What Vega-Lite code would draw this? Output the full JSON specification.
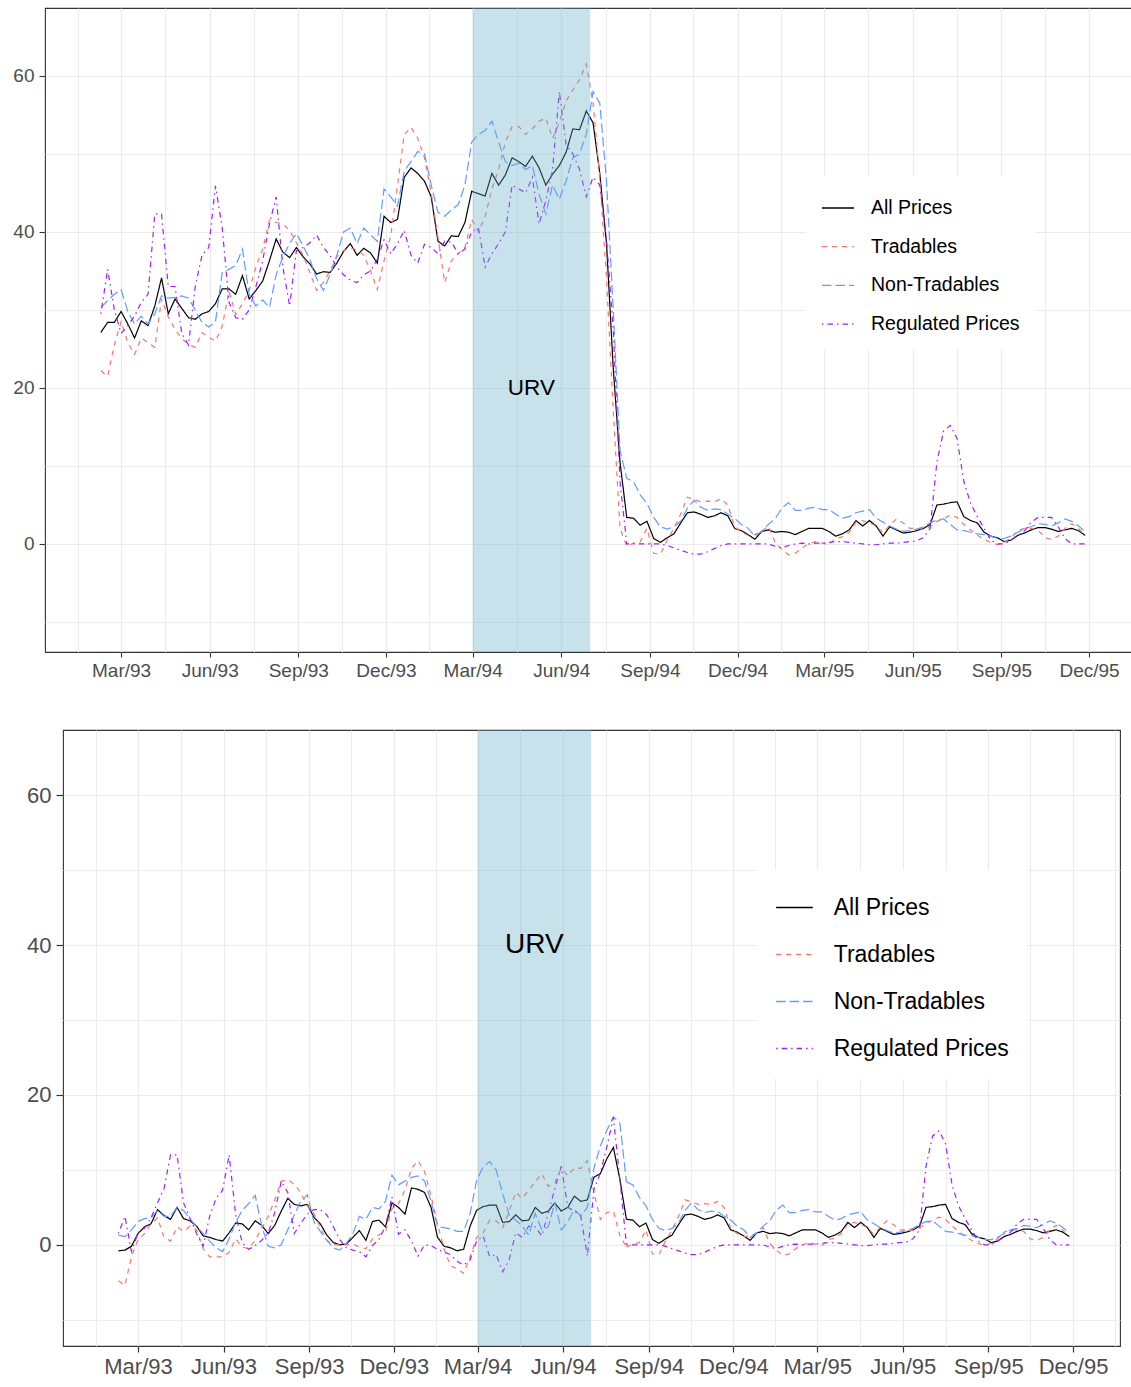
{
  "$schema": "https://vega.github.io/schema/vega-lite/v6.json",
  "background": "white",
  "padding": {"left": 0, "top": 7, "right": 0, "bottom": 0},
  "spacing": 36,
  "datasets": {
    "top": [
      {"d":"1993-02-08","a":27.1,"t":22.2,"n":30.3,"r":29.5},
      {"d":"1993-02-15","a":28.4,"t":21.5,"n":31.2,"r":35.2},
      {"d":"1993-02-22","a":28.4,"t":25.5,"n":32.0,"r":30.0},
      {"d":"1993-03-01","a":29.8,"t":28.5,"n":32.6,"r":27.0},
      {"d":"1993-03-08","a":28.2,"t":25.8,"n":29.8,"r":28.0},
      {"d":"1993-03-15","a":26.4,"t":24.3,"n":28.2,"r":29.2},
      {"d":"1993-03-22","a":28.6,"t":26.4,"n":29.2,"r":31.0},
      {"d":"1993-03-29","a":28.0,"t":25.8,"n":28.2,"r":32.0},
      {"d":"1993-04-05","a":30.5,"t":25.2,"n":29.5,"r":42.3},
      {"d":"1993-04-12","a":34.1,"t":31.4,"n":31.8,"r":42.3},
      {"d":"1993-04-19","a":29.5,"t":29.1,"n":31.5,"r":33.0},
      {"d":"1993-04-26","a":31.4,"t":27.5,"n":31.6,"r":33.0},
      {"d":"1993-05-03","a":30.2,"t":26.3,"n":31.8,"r":27.0},
      {"d":"1993-05-10","a":29.0,"t":25.6,"n":31.5,"r":25.5},
      {"d":"1993-05-17","a":28.8,"t":25.2,"n":30.0,"r":33.0},
      {"d":"1993-05-24","a":29.5,"t":27.1,"n":28.4,"r":37.0},
      {"d":"1993-05-31","a":29.8,"t":26.5,"n":27.8,"r":38.0},
      {"d":"1993-06-07","a":30.8,"t":26.0,"n":28.5,"r":45.9},
      {"d":"1993-06-14","a":32.7,"t":27.9,"n":34.8,"r":40.5},
      {"d":"1993-06-21","a":32.7,"t":32.4,"n":35.2,"r":31.0},
      {"d":"1993-06-28","a":32.0,"t":29.4,"n":35.7,"r":29.0},
      {"d":"1993-07-05","a":34.4,"t":30.8,"n":37.8,"r":28.8},
      {"d":"1993-07-12","a":31.4,"t":32.5,"n":32.0,"r":30.0},
      {"d":"1993-07-19","a":32.5,"t":35.5,"n":30.5,"r":33.0},
      {"d":"1993-07-26","a":33.7,"t":37.8,"n":31.3,"r":36.3},
      {"d":"1993-08-02","a":36.3,"t":41.5,"n":30.3,"r":41.0},
      {"d":"1993-08-09","a":39.1,"t":41.2,"n":34.5,"r":44.5},
      {"d":"1993-08-16","a":37.4,"t":41.0,"n":36.8,"r":35.5},
      {"d":"1993-08-23","a":36.7,"t":40.2,"n":38.5,"r":30.5},
      {"d":"1993-08-30","a":38.0,"t":38.6,"n":39.8,"r":37.6},
      {"d":"1993-09-06","a":36.8,"t":37.0,"n":38.2,"r":38.0},
      {"d":"1993-09-13","a":35.9,"t":34.8,"n":36.5,"r":38.6},
      {"d":"1993-09-20","a":34.6,"t":32.5,"n":34.0,"r":39.6},
      {"d":"1993-09-27","a":34.9,"t":33.5,"n":32.5,"r":38.0},
      {"d":"1993-10-04","a":34.8,"t":35.0,"n":34.5,"r":37.0},
      {"d":"1993-10-11","a":36.0,"t":36.8,"n":37.0,"r":35.5},
      {"d":"1993-10-18","a":37.5,"t":37.6,"n":40.0,"r":34.5},
      {"d":"1993-10-25","a":38.5,"t":37.9,"n":40.5,"r":33.8},
      {"d":"1993-11-01","a":37.0,"t":37.7,"n":38.5,"r":33.5},
      {"d":"1993-11-08","a":37.9,"t":37.0,"n":40.5,"r":34.5},
      {"d":"1993-11-15","a":37.3,"t":35.0,"n":39.6,"r":35.0},
      {"d":"1993-11-22","a":36.0,"t":32.6,"n":38.8,"r":36.5},
      {"d":"1993-11-29","a":42.0,"t":36.3,"n":45.5,"r":39.0},
      {"d":"1993-12-06","a":41.2,"t":39.5,"n":44.5,"r":37.2},
      {"d":"1993-12-13","a":41.6,"t":46.0,"n":43.3,"r":38.5},
      {"d":"1993-12-20","a":47.0,"t":52.5,"n":47.8,"r":40.2},
      {"d":"1993-12-27","a":48.2,"t":53.4,"n":49.0,"r":37.0},
      {"d":"1994-01-03","a":47.5,"t":52.0,"n":50.3,"r":36.0},
      {"d":"1994-01-10","a":46.5,"t":49.5,"n":50.0,"r":38.4},
      {"d":"1994-01-17","a":44.5,"t":45.0,"n":46.0,"r":38.0},
      {"d":"1994-01-24","a":38.8,"t":39.3,"n":42.5,"r":37.2},
      {"d":"1994-01-31","a":38.2,"t":33.5,"n":42.0,"r":38.8},
      {"d":"1994-02-07","a":39.5,"t":36.3,"n":42.8,"r":38.7},
      {"d":"1994-02-14","a":39.4,"t":37.2,"n":43.5,"r":37.2},
      {"d":"1994-02-21","a":41.2,"t":38.0,"n":46.0,"r":37.8},
      {"d":"1994-02-28","a":45.2,"t":41.6,"n":51.5,"r":40.0},
      {"d":"1994-03-07","a":44.9,"t":40.0,"n":52.5,"r":40.5},
      {"d":"1994-03-14","a":44.6,"t":42.0,"n":53.0,"r":35.5},
      {"d":"1994-03-21","a":47.5,"t":45.5,"n":54.2,"r":37.2},
      {"d":"1994-03-28","a":46.0,"t":48.0,"n":51.5,"r":38.5},
      {"d":"1994-04-04","a":47.3,"t":51.5,"n":49.0,"r":40.0},
      {"d":"1994-04-11","a":49.5,"t":53.5,"n":48.5,"r":46.0},
      {"d":"1994-04-18","a":49.0,"t":53.5,"n":48.8,"r":45.5},
      {"d":"1994-04-25","a":48.4,"t":52.5,"n":48.0,"r":45.0},
      {"d":"1994-05-02","a":49.7,"t":53.2,"n":48.5,"r":47.0},
      {"d":"1994-05-09","a":48.2,"t":54.2,"n":44.8,"r":41.0},
      {"d":"1994-05-16","a":46.0,"t":54.6,"n":42.3,"r":44.0},
      {"d":"1994-05-23","a":47.4,"t":52.0,"n":46.0,"r":48.0},
      {"d":"1994-05-30","a":48.5,"t":54.0,"n":44.2,"r":58.0},
      {"d":"1994-06-06","a":50.2,"t":56.8,"n":46.5,"r":51.2},
      {"d":"1994-06-13","a":53.2,"t":58.2,"n":49.5,"r":50.0},
      {"d":"1994-06-20","a":53.1,"t":59.5,"n":50.0,"r":48.0},
      {"d":"1994-06-27","a":55.5,"t":61.5,"n":52.5,"r":44.5},
      {"d":"1994-07-04","a":54.0,"t":56.5,"n":58.0,"r":47.0},
      {"d":"1994-07-11","a":47.5,"t":47.0,"n":56.5,"r":46.0},
      {"d":"1994-07-18","a":38.5,"t":34.0,"n":46.5,"r":39.0},
      {"d":"1994-07-25","a":22.5,"t":17.0,"n":30.0,"r":27.5},
      {"d":"1994-08-01","a":10.5,"t":2.0,"n":12.0,"r":8.0},
      {"d":"1994-08-08","a":3.4,"t":-0.3,"n":8.4,"r":0.0},
      {"d":"1994-08-15","a":3.3,"t":0.1,"n":8.0,"r":0.0},
      {"d":"1994-08-22","a":2.4,"t":0.3,"n":6.3,"r":0.0},
      {"d":"1994-08-29","a":2.9,"t":2.0,"n":5.2,"r":0.0},
      {"d":"1994-09-05","a":0.7,"t":-1.2,"n":3.4,"r":0.0},
      {"d":"1994-09-12","a":0.2,"t":-1.3,"n":2.2,"r":0.0},
      {"d":"1994-09-19","a":0.8,"t":0.5,"n":1.9,"r":-0.2},
      {"d":"1994-09-26","a":1.3,"t":2.0,"n":2.2,"r":-0.5},
      {"d":"1994-10-03","a":2.7,"t":3.8,"n":2.9,"r":-0.8},
      {"d":"1994-10-10","a":4.0,"t":6.0,"n":4.6,"r":-1.1},
      {"d":"1994-10-17","a":4.1,"t":5.7,"n":5.6,"r":-1.3},
      {"d":"1994-10-24","a":3.8,"t":5.4,"n":4.7,"r":-1.3},
      {"d":"1994-10-31","a":3.4,"t":5.5,"n":4.3,"r":-1.0},
      {"d":"1994-11-07","a":3.6,"t":5.4,"n":4.5,"r":-0.6},
      {"d":"1994-11-14","a":4.0,"t":5.8,"n":4.4,"r":-0.2},
      {"d":"1994-11-21","a":3.6,"t":5.0,"n":3.8,"r":0.0},
      {"d":"1994-11-28","a":2.0,"t":2.2,"n":3.3,"r":0.0},
      {"d":"1994-12-05","a":1.7,"t":1.5,"n":2.5,"r":0.0},
      {"d":"1994-12-12","a":1.2,"t":1.1,"n":2.0,"r":0.0},
      {"d":"1994-12-19","a":0.6,"t":1.2,"n":1.0,"r":0.0},
      {"d":"1994-12-26","a":1.6,"t":1.6,"n":1.6,"r":0.0},
      {"d":"1995-01-02","a":1.8,"t":2.3,"n":2.5,"r":0.0},
      {"d":"1995-01-09","a":1.5,"t":0.2,"n":3.2,"r":-0.3},
      {"d":"1995-01-16","a":1.6,"t":-0.7,"n":4.6,"r":-0.5},
      {"d":"1995-01-23","a":1.5,"t":-1.4,"n":5.3,"r":-0.2},
      {"d":"1995-01-30","a":1.2,"t":-1.2,"n":4.3,"r":0.0},
      {"d":"1995-02-06","a":1.6,"t":-0.5,"n":4.3,"r":0.1},
      {"d":"1995-02-13","a":2.0,"t":0.0,"n":4.6,"r":0.0},
      {"d":"1995-02-20","a":2.0,"t":0.3,"n":4.7,"r":0.1},
      {"d":"1995-02-27","a":2.0,"t":0.1,"n":4.4,"r":0.1},
      {"d":"1995-03-06","a":1.6,"t":-0.1,"n":4.4,"r":0.2},
      {"d":"1995-03-13","a":1.0,"t":0.7,"n":3.8,"r":0.3},
      {"d":"1995-03-20","a":1.3,"t":0.9,"n":3.3,"r":0.3},
      {"d":"1995-03-27","a":1.8,"t":1.5,"n":3.5,"r":0.2},
      {"d":"1995-04-03","a":3.0,"t":2.8,"n":4.0,"r":0.1},
      {"d":"1995-04-10","a":2.3,"t":3.0,"n":4.2,"r":0.0},
      {"d":"1995-04-17","a":3.0,"t":2.7,"n":4.4,"r":-0.1},
      {"d":"1995-04-24","a":2.3,"t":2.3,"n":3.3,"r":-0.1},
      {"d":"1995-05-01","a":1.0,"t":1.4,"n":2.8,"r":0.0},
      {"d":"1995-05-08","a":2.2,"t":2.4,"n":2.3,"r":0.1},
      {"d":"1995-05-15","a":1.8,"t":3.2,"n":1.9,"r":0.1},
      {"d":"1995-05-22","a":1.4,"t":2.7,"n":1.6,"r":0.2},
      {"d":"1995-05-29","a":1.5,"t":2.0,"n":1.7,"r":0.3},
      {"d":"1995-06-05","a":1.7,"t":2.0,"n":1.9,"r":0.4},
      {"d":"1995-06-12","a":2.0,"t":1.9,"n":2.2,"r":0.8},
      {"d":"1995-06-19","a":2.5,"t":2.2,"n":2.7,"r":2.0},
      {"d":"1995-06-26","a":5.0,"t":2.9,"n":3.1,"r":10.5},
      {"d":"1995-07-03","a":5.1,"t":3.2,"n":3.2,"r":14.5},
      {"d":"1995-07-10","a":5.3,"t":3.7,"n":2.5,"r":15.2},
      {"d":"1995-07-17","a":5.4,"t":3.4,"n":1.8,"r":13.5},
      {"d":"1995-07-24","a":3.5,"t":2.5,"n":1.7,"r":8.0},
      {"d":"1995-07-31","a":3.0,"t":1.8,"n":1.5,"r":5.2},
      {"d":"1995-08-07","a":2.7,"t":1.1,"n":1.3,"r":3.5},
      {"d":"1995-08-14","a":1.5,"t":0.6,"n":1.2,"r":2.0},
      {"d":"1995-08-21","a":1.0,"t":0.2,"n":1.0,"r":0.5},
      {"d":"1995-08-28","a":0.8,"t":-0.1,"n":0.7,"r":0.0},
      {"d":"1995-09-04","a":0.3,"t":0.2,"n":0.7,"r":0.0},
      {"d":"1995-09-11","a":0.5,"t":0.8,"n":1.0,"r":0.5},
      {"d":"1995-09-18","a":1.1,"t":1.7,"n":1.5,"r":1.1},
      {"d":"1995-09-25","a":1.4,"t":2.0,"n":2.0,"r":1.7},
      {"d":"1995-10-02","a":1.8,"t":2.0,"n":2.2,"r":2.8},
      {"d":"1995-10-09","a":2.1,"t":1.8,"n":2.6,"r":3.4},
      {"d":"1995-10-16","a":2.1,"t":0.8,"n":2.5,"r":3.4},
      {"d":"1995-10-23","a":1.9,"t":0.6,"n":2.3,"r":3.4},
      {"d":"1995-10-30","a":1.6,"t":1.0,"n":2.7,"r":2.2},
      {"d":"1995-11-06","a":1.8,"t":2.0,"n":3.2,"r":0.7},
      {"d":"1995-11-13","a":2.0,"t":2.6,"n":2.9,"r":0.0},
      {"d":"1995-11-20","a":1.7,"t":2.0,"n":2.3,"r":0.0},
      {"d":"1995-11-27","a":1.1,"t":1.0,"n":1.6,"r":0.0}
    ],
    "pre": [
      {"d":"1993-02-08","a":-0.8,"t":-4.8,"n":1.3,"r":1.5},
      {"d":"1993-02-15","a":-0.7,"t":-5.4,"n":1.1,"r":3.8},
      {"d":"1993-02-22","a":-0.2,"t":-1.6,"n":2.0,"r":-0.9},
      {"d":"1993-03-01","a":1.5,"t":0.7,"n":3.1,"r":1.6},
      {"d":"1993-03-08","a":2.4,"t":1.5,"n":3.5,"r":2.2},
      {"d":"1993-03-15","a":2.8,"t":2.8,"n":3.6,"r":3.6},
      {"d":"1993-03-22","a":4.7,"t":3.6,"n":4.6,"r":5.6},
      {"d":"1993-03-29","a":3.9,"t":1.0,"n":3.8,"r":7.5},
      {"d":"1993-04-05","a":3.4,"t":0.5,"n":3.8,"r":12.0},
      {"d":"1993-04-12","a":5.0,"t":2.4,"n":5.0,"r":12.0},
      {"d":"1993-04-19","a":3.5,"t":1.8,"n":4.6,"r":5.6},
      {"d":"1993-04-26","a":3.2,"t":2.5,"n":3.4,"r":3.5},
      {"d":"1993-05-03","a":2.5,"t":2.0,"n":2.5,"r":1.5},
      {"d":"1993-05-10","a":1.2,"t":-0.5,"n":1.5,"r":-0.2},
      {"d":"1993-05-17","a":1.0,"t":-1.6,"n":0.5,"r":3.8},
      {"d":"1993-05-24","a":0.7,"t":-1.6,"n":-0.4,"r":6.2},
      {"d":"1993-05-31","a":0.5,"t":-1.6,"n":-0.9,"r":7.3},
      {"d":"1993-06-07","a":1.6,"t":-1.0,"n":0.8,"r":12.0},
      {"d":"1993-06-14","a":2.9,"t":0.8,"n":3.0,"r":4.0},
      {"d":"1993-06-21","a":2.8,"t":-0.3,"n":4.6,"r":0.3},
      {"d":"1993-06-28","a":2.0,"t":-0.5,"n":5.5,"r":-0.6},
      {"d":"1993-07-05","a":3.2,"t":0.6,"n":6.6,"r":-0.1},
      {"d":"1993-07-12","a":2.6,"t":2.2,"n":2.5,"r":0.6},
      {"d":"1993-07-19","a":1.5,"t":3.8,"n":-0.2,"r":1.6},
      {"d":"1993-07-26","a":2.6,"t":6.0,"n":-0.4,"r":4.3},
      {"d":"1993-08-02","a":4.5,"t":8.5,"n":0.0,"r":8.5},
      {"d":"1993-08-09","a":6.2,"t":8.7,"n":2.0,"r":7.0},
      {"d":"1993-08-16","a":5.4,"t":8.1,"n":4.0,"r":1.5},
      {"d":"1993-08-23","a":5.2,"t":6.9,"n":5.8,"r":2.9},
      {"d":"1993-08-30","a":5.4,"t":5.2,"n":6.7,"r":4.1},
      {"d":"1993-09-06","a":3.7,"t":4.2,"n":3.1,"r":4.7},
      {"d":"1993-09-13","a":2.8,"t":2.3,"n":1.8,"r":4.7},
      {"d":"1993-09-20","a":1.3,"t":0.6,"n":0.6,"r":4.0},
      {"d":"1993-09-27","a":0.3,"t":0.0,"n":-0.4,"r":2.4},
      {"d":"1993-10-04","a":0.0,"t":0.0,"n":-0.7,"r":0.7},
      {"d":"1993-10-11","a":0.1,"t":0.0,"n":0.2,"r":-0.4},
      {"d":"1993-10-18","a":1.0,"t":0.1,"n":1.5,"r":-0.7},
      {"d":"1993-10-25","a":1.9,"t":-0.3,"n":3.8,"r":-0.9},
      {"d":"1993-11-01","a":0.6,"t":-0.5,"n":3.4,"r":-1.6},
      {"d":"1993-11-08","a":3.1,"t":0.8,"n":5.0,"r":-0.1},
      {"d":"1993-11-15","a":3.3,"t":1.3,"n":4.8,"r":0.7},
      {"d":"1993-11-22","a":2.4,"t":1.8,"n":5.8,"r":2.5},
      {"d":"1993-11-29","a":5.6,"t":4.8,"n":9.3,"r":6.4},
      {"d":"1993-12-06","a":5.0,"t":5.5,"n":8.0,"r":1.4},
      {"d":"1993-12-13","a":4.1,"t":7.3,"n":8.5,"r":2.0},
      {"d":"1993-12-20","a":7.6,"t":10.2,"n":9.0,"r":0.5},
      {"d":"1993-12-27","a":7.4,"t":11.2,"n":9.2,"r":-1.5},
      {"d":"1994-01-03","a":7.0,"t":9.8,"n":8.5,"r":0.0},
      {"d":"1994-01-10","a":5.0,"t":6.5,"n":5.8,"r":-0.1},
      {"d":"1994-01-17","a":1.0,"t":2.8,"n":2.4,"r":-0.6},
      {"d":"1994-01-24","a":-0.2,"t":-0.6,"n":2.3,"r":-1.0},
      {"d":"1994-01-31","a":-0.4,"t":-2.8,"n":2.1,"r":-1.3},
      {"d":"1994-02-07","a":-0.8,"t":-3.2,"n":1.8,"r":-2.2},
      {"d":"1994-02-14","a":-0.6,"t":-3.8,"n":1.8,"r":-2.7},
      {"d":"1994-02-21","a":2.5,"t":-1.6,"n":4.2,"r":-2.0},
      {"d":"1994-02-28","a":4.6,"t":1.0,"n":8.6,"r":0.5},
      {"d":"1994-03-07","a":5.1,"t":1.6,"n":10.4,"r":1.2},
      {"d":"1994-03-14","a":5.3,"t":3.3,"n":11.1,"r":-1.6},
      {"d":"1994-03-21","a":5.3,"t":3.2,"n":10.0,"r":-1.3},
      {"d":"1994-03-28","a":3.0,"t":2.3,"n":6.8,"r":-3.6},
      {"d":"1994-04-04","a":3.1,"t":4.5,"n":4.0,"r":-2.0},
      {"d":"1994-04-11","a":4.0,"t":7.0,"n":3.3,"r":1.6},
      {"d":"1994-04-18","a":3.2,"t":6.2,"n":2.5,"r":1.0},
      {"d":"1994-04-25","a":3.3,"t":7.3,"n":1.3,"r":2.5},
      {"d":"1994-05-02","a":5.0,"t":8.4,"n":4.2,"r":2.4},
      {"d":"1994-05-09","a":4.2,"t":9.5,"n":2.0,"r":1.2},
      {"d":"1994-05-16","a":4.5,"t":7.8,"n":2.4,"r":4.2},
      {"d":"1994-05-23","a":5.6,"t":8.3,"n":5.6,"r":7.5},
      {"d":"1994-05-30","a":4.5,"t":10.2,"n":2.0,"r":10.5},
      {"d":"1994-06-06","a":5.0,"t":9.2,"n":3.1,"r":5.0},
      {"d":"1994-06-13","a":6.5,"t":10.3,"n":4.7,"r":4.5},
      {"d":"1994-06-20","a":5.8,"t":10.2,"n":3.9,"r":3.8},
      {"d":"1994-06-27","a":6.0,"t":11.2,"n":5.0,"r":-1.5},
      {"d":"1994-07-04","a":9.0,"t":7.0,"n":10.2,"r":7.3},
      {"d":"1994-07-11","a":9.5,"t":3.4,"n":13.2,"r":9.6},
      {"d":"1994-07-18","a":11.5,"t":4.3,"n":15.3,"r":13.1},
      {"d":"1994-07-25","a":13.0,"t":4.5,"n":17.1,"r":17.0},
      {"d":"1994-08-01","a":8.7,"t":1.2,"n":16.2,"r":8.7},
      {"d":"1994-08-08","a":3.4,"t":-0.3,"n":8.4,"r":0.0}
    ]
  },
  "vconcat": [
    {
      "width": 1087,
      "height": 644,
      "layer": [
        {
          "data": {"name": "top"},
          "transform": [{"fold": ["a", "t", "n", "r"], "as": ["k", "v"]}],
          "mark": {"type": "line", "strokeWidth": 1.2},
          "encoding": {
            "x": {
              "field": "d", "type": "temporal",
              "scale": {"domain": [{"year": 1992, "month": 12, "date": 12}, {"year": 1996, "month": 1, "date": 14, "hours": 14}]},
              "axis": {
                "orient": "bottom", "title": null, "format": "%b/%y",
                "values": [
                  {"year": 1993, "month": 3, "date": 1}, {"year": 1993, "month": 6, "date": 1}, {"year": 1993, "month": 9, "date": 1}, {"year": 1993, "month": 12, "date": 1},
                  {"year": 1994, "month": 3, "date": 1}, {"year": 1994, "month": 6, "date": 1}, {"year": 1994, "month": 9, "date": 1}, {"year": 1994, "month": 12, "date": 1},
                  {"year": 1995, "month": 3, "date": 1}, {"year": 1995, "month": 6, "date": 1}, {"year": 1995, "month": 9, "date": 1}, {"year": 1995, "month": 12, "date": 1}
                ],
                "grid": true, "gridWidth": 1.2, "tickSize": 5, "tickWidth": 1.1,
                "labelFontSize": 19, "labelPadding": 4, "labelFlush": false, "labelOverlap": false,
                "minExtent": 40, "maxExtent": 40
              }
            },
            "y": {
              "field": "v", "type": "quantitative",
              "scale": {"domain": [-13.85, 68.7], "nice": false, "zero": false},
              "axis": {
                "orient": "left", "title": null, "values": [0, 20, 40, 60],
                "grid": true, "gridWidth": 1.2, "tickSize": 6, "tickWidth": 1.1,
                "labelFontSize": 19, "labelPadding": 5, "minExtent": 44, "maxExtent": 44
              }
            },
            "color": {
              "field": "k", "type": "nominal", "title": null,
              "scale": {"domain": ["a", "t", "n", "r"], "range": ["#000000", "#F8766D", "#619CFF", "#A020F0"]},
              "legend": {
                "orient": "none", "legendX": 761, "legendY": 168, "direction": "vertical",
                "fillColor": "white", "padding": 15, "title": null,
                "labelFontSize": 19.5, "labelColor": "#000000", "labelOffset": 16, "rowPadding": 11.7, "labelLimit": 300,
                "symbolType": "stroke", "symbolSize": 1024, "symbolStrokeWidth": 1.3,
                "labelExpr": "datum.label == 'a' ? 'All Prices' : datum.label == 't' ? 'Tradables' : datum.label == 'n' ? 'Non-Tradables' : 'Regulated Prices'"
              }
            },
            "strokeDash": {
              "field": "k", "type": "nominal", "title": null,
              "scale": {"domain": ["a", "t", "n", "r"], "range": [[1, 0], [5, 5], [9.5, 4], [1.5, 4, 5.5, 4]]},
              "legend": {
                "orient": "none", "legendX": 761, "legendY": 168, "direction": "vertical",
                "fillColor": "white", "padding": 15, "title": null,
                "labelFontSize": 19.5, "labelColor": "#000000", "labelOffset": 16, "rowPadding": 11.7, "labelLimit": 300,
                "symbolType": "stroke", "symbolSize": 1024, "symbolStrokeWidth": 1.3,
                "labelExpr": "datum.label == 'a' ? 'All Prices' : datum.label == 't' ? 'Tradables' : datum.label == 'n' ? 'Non-Tradables' : 'Regulated Prices'"
              }
            }
          }
        },
        {
          "data": {"values": [{"s": "1994-03-01", "e": "1994-07-01"}]},
          "mark": {"type": "rect", "color": "#62ACC6", "opacity": 0.35},
          "encoding": {
            "x": {
              "field": "s", "type": "temporal",
              "axis": {
                "orient": "top", "title": null, "labels": false, "ticks": false, "domain": false,
                "grid": true, "gridWidth": 0.9,
                "values": [
                  {"year": 1993, "month": 1, "date": 15}, {"year": 1993, "month": 4, "date": 16}, {"year": 1993, "month": 7, "date": 17}, {"year": 1993, "month": 10, "date": 16},
                  {"year": 1994, "month": 1, "date": 15}, {"year": 1994, "month": 4, "date": 16}, {"year": 1994, "month": 7, "date": 17}, {"year": 1994, "month": 10, "date": 16},
                  {"year": 1995, "month": 1, "date": 15}, {"year": 1995, "month": 4, "date": 16}, {"year": 1995, "month": 7, "date": 17}, {"year": 1995, "month": 10, "date": 16}
                ]
              }
            },
            "x2": {"field": "e"}
          }
        },
        {
          "data": {"values": [{"x": "1994-05-01", "y": 20, "label": "URV"}]},
          "mark": {"type": "text", "fontSize": 22.5, "color": "#000000"},
          "encoding": {
            "x": {"field": "x", "type": "temporal", "axis": null},
            "y": {
              "field": "y", "type": "quantitative",
              "axis": {
                "orient": "right", "title": null, "labels": false, "ticks": false, "domain": false,
                "grid": true, "gridWidth": 0.9, "values": [-10, 10, 30, 50]
              }
            },
            "text": {"field": "label"}
          }
        }
      ],
      "resolve": {"axis": {"x": "independent", "y": "independent"}}
    },
    {
      "spacing": -32,
      "hconcat": [
        {
          "width": 1,
          "height": 616,
          "view": {"stroke": null, "fill": null},
          "data": {"values": [{}]},
          "mark": {"type": "point", "opacity": 0},
          "encoding": {}
        },
        {
          "width": 1057,
          "height": 616,
          "layer": [
            {
              "data": {"name": "pre"},
              "transform": [{"fold": ["a", "t", "n", "r"], "as": ["k", "v"]}],
              "mark": {"type": "line", "strokeWidth": 1.2},
              "encoding": {
                "x": {
                  "field": "d", "type": "temporal",
                  "scale": {"domain": [{"year": 1992, "month": 12, "date": 10, "hours": 10}, {"year": 1996, "month": 1, "date": 20, "hours": 12}]},
                  "axis": {
                    "orient": "bottom", "title": null, "format": "%b/%y",
                    "values": [
                      {"year": 1993, "month": 3, "date": 1}, {"year": 1993, "month": 6, "date": 1}, {"year": 1993, "month": 9, "date": 1}, {"year": 1993, "month": 12, "date": 1},
                      {"year": 1994, "month": 3, "date": 1}, {"year": 1994, "month": 6, "date": 1}, {"year": 1994, "month": 9, "date": 1}, {"year": 1994, "month": 12, "date": 1},
                      {"year": 1995, "month": 3, "date": 1}, {"year": 1995, "month": 6, "date": 1}, {"year": 1995, "month": 9, "date": 1}, {"year": 1995, "month": 12, "date": 1}
                    ],
                    "grid": true, "gridWidth": 1.2, "tickSize": 6, "tickWidth": 1.2,
                    "labelFontSize": 22, "labelPadding": 4, "labelFlush": false, "labelOverlap": false
                  }
                },
                "y": {
                  "field": "v", "type": "quantitative",
                  "scale": {"domain": [-13.5, 68.7], "nice": false, "zero": false},
                  "axis": {
                    "orient": "left", "title": null, "values": [0, 20, 40, 60],
                    "grid": true, "gridWidth": 1.2, "tickSize": 7, "tickWidth": 1.2,
                    "labelFontSize": 22, "labelPadding": 5, "minExtent": 45, "maxExtent": 45
                  }
                },
                "color": {
                  "field": "k", "type": "nominal", "title": null,
                  "scale": {"domain": ["a", "t", "n", "r"], "range": ["#000000", "#F8766D", "#619CFF", "#A020F0"]},
                  "legend": {
                    "orient": "none", "legendX": 712, "legendY": 140, "direction": "vertical",
                    "fillColor": "white", "padding": 18, "title": null,
                    "labelFontSize": 23, "labelColor": "#000000", "labelOffset": 19.7, "rowPadding": 15, "labelLimit": 300,
                    "symbolType": "stroke", "symbolSize": 1347, "symbolStrokeWidth": 1.5,
                    "labelExpr": "datum.label == 'a' ? 'All Prices' : datum.label == 't' ? 'Tradables' : datum.label == 'n' ? 'Non-Tradables' : 'Regulated Prices'"
                  }
                },
                "strokeDash": {
                  "field": "k", "type": "nominal", "title": null,
                  "scale": {"domain": ["a", "t", "n", "r"], "range": [[1, 0], [5, 5], [9.5, 4], [1.5, 4, 5.5, 4]]},
                  "legend": {
                    "orient": "none", "legendX": 712, "legendY": 140, "direction": "vertical",
                    "fillColor": "white", "padding": 18, "title": null,
                    "labelFontSize": 23, "labelColor": "#000000", "labelOffset": 19.7, "rowPadding": 15, "labelLimit": 300,
                    "symbolType": "stroke", "symbolSize": 1347, "symbolStrokeWidth": 1.5,
                    "labelExpr": "datum.label == 'a' ? 'All Prices' : datum.label == 't' ? 'Tradables' : datum.label == 'n' ? 'Non-Tradables' : 'Regulated Prices'"
                  }
                }
              }
            },
            {
              "data": {"name": "top"},
              "transform": [
                {"filter": "toDate(datum.d) >= toDate('1994-08-08')"},
                {"fold": ["a", "t", "n", "r"], "as": ["k", "v"]}
              ],
              "mark": {"type": "line", "strokeWidth": 1.2},
              "encoding": {
                "x": {"field": "d", "type": "temporal", "axis": null},
                "y": {"field": "v", "type": "quantitative", "axis": null},
                "color": {"field": "k", "type": "nominal"},
                "strokeDash": {"field": "k", "type": "nominal"}
              }
            },
            {
              "data": {"values": [{"s": "1994-03-01", "e": "1994-07-01"}]},
              "mark": {"type": "rect", "color": "#62ACC6", "opacity": 0.35},
              "encoding": {
                "x": {
                  "field": "s", "type": "temporal",
                  "axis": {
                    "orient": "top", "title": null, "labels": false, "ticks": false, "domain": false,
                    "grid": true, "gridWidth": 0.9,
                    "values": [
                      {"year": 1993, "month": 1, "date": 15}, {"year": 1993, "month": 4, "date": 16}, {"year": 1993, "month": 7, "date": 17}, {"year": 1993, "month": 10, "date": 16},
                      {"year": 1994, "month": 1, "date": 15}, {"year": 1994, "month": 4, "date": 16}, {"year": 1994, "month": 7, "date": 17}, {"year": 1994, "month": 10, "date": 16},
                      {"year": 1995, "month": 1, "date": 15}, {"year": 1995, "month": 4, "date": 16}, {"year": 1995, "month": 7, "date": 17}, {"year": 1995, "month": 10, "date": 16},
                      {"year": 1996, "month": 1, "date": 15}
                    ]
                  }
                },
                "x2": {"field": "e"}
              }
            },
            {
              "data": {"values": [{"x": "1994-05-01", "y": 40, "label": "URV"}]},
              "mark": {"type": "text", "fontSize": 28, "color": "#000000"},
              "encoding": {
                "x": {"field": "x", "type": "temporal", "axis": null},
                "y": {
                  "field": "y", "type": "quantitative",
                  "axis": {
                    "orient": "right", "title": null, "labels": false, "ticks": false, "domain": false,
                    "grid": true, "gridWidth": 0.9, "values": [-10, 10, 30, 50]
                  }
                },
                "text": {"field": "label"}
              }
            }
          ],
          "resolve": {"axis": {"x": "independent", "y": "independent"}}
        }
      ]
    }
  ],
  "resolve": {
    "scale": {"x": "independent", "y": "independent", "color": "independent", "strokeDash": "independent"},
    "legend": {"color": "independent", "strokeDash": "independent"}
  },
  "config": {
    "font": "Liberation Sans",
    "view": {"stroke": "#333333", "strokeWidth": 1.1},
    "axis": {
      "domain": false,
      "labelFont": "Liberation Sans",
      "labelColor": "#4D4D4D",
      "tickColor": "#333333",
      "gridColor": "#EBEBEB"
    },
    "legend": {"labelFont": "Liberation Sans"},
    "text": {"font": "Liberation Sans"}
  }
}
